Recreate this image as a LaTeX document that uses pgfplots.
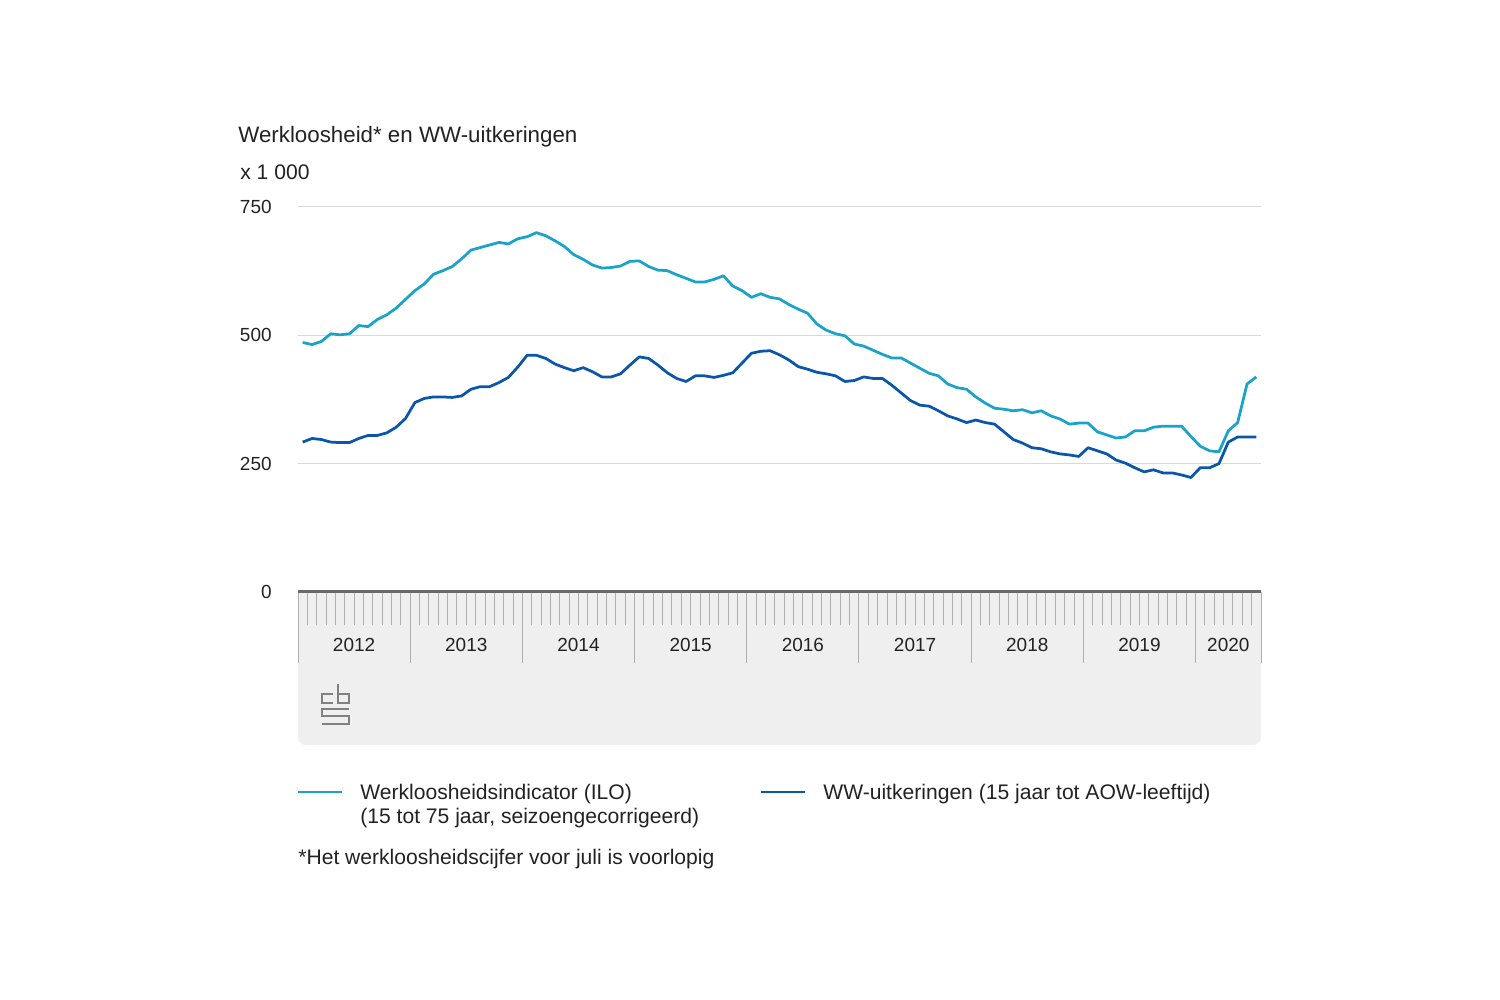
\documentclass[border=0pt]{standalone}
\usepackage{pgfplots}
\pgfplotsset{compat=1.18}
\usepackage{pgfplotstable}
\usepackage{fontspec}
\setmainfont{Liberation Sans}
\definecolor{ilo}{HTML}{1AA3C8}
\definecolor{ww}{HTML}{0A56A8}
\definecolor{band}{HTML}{EFEFEF}
\definecolor{txt}{HTML}{222222}
\definecolor{gridc}{HTML}{D9D9D9}
\definecolor{tickc}{HTML}{AFAFAF}
\definecolor{axc}{HTML}{6A6A6A}

% Werkloosheidsindicator (ILO), x 1000, monthly Jan 2012 - Jul 2020
\pgfplotstableread{
v
486
482
488
503
501
503
519
517
531
540
553
570
587
600
619
626
634
649
666
671
676
681
678
688
692
700
694
684
673
657
648
637
631
632
635
644
645
634
627
626
618
611
604
604
609
616
596
587
574
581
574
571
560
551
543
522
510
503
499
483
479
471
463
456
456
446
436
426
421
405
398
395
380
368
358
356
353
355
349
353
343
337
327
329
329
312
306
300
302
314
314
321
323
323
323
303
284
275
273
314
330
405
419
}\iloTable

% WW-uitkeringen, x 1000, monthly Jan 2012 - Jul 2020
\pgfplotstableread{
v
292
299
297
292
291
291
299
305
305
310
321
338
369
377
380
380
379
382
395
400
400
408
418
438
461
461
455
444
437
431
437
429
419
419
425
442
458
455
442
427
416
410
421
421
418
422
427
446
465
469
470
462
452
439
434
428
425
421
410
412
419
416
416
403
388
373
364
362
353
343
337
330
335
330
327
312
297
290
281
279
273
269
267
264
281
275
269
257
251
242
234
238
232
232
228
223
242
242
250
292
302
302
302
}\wwTable

\begin{document}
\begin{tikzpicture}[font=\fontsize{10.8}{13}\selectfont, text=txt]
\begin{scope}[x=0.2mm,y=0.2mm]
\path (0,0) rectangle (1500,1000);
% grey band below the axis
\fill[band, rounded corners=1.6mm] (298,255) rectangle (1261,400);
\fill[band] (298,380) rectangle (1261,408);
% titles
\node[anchor=base west, inner sep=0pt, font=\fontsize{12.7}{15}\selectfont] at (238,857) {Werkloosheid* en WW-uitkeringen};
\node[anchor=base west, inner sep=0pt, font=\fontsize{12}{14}\selectfont] at (240,820) {x 1 000};
\end{scope}

\begin{axis}[
  at={(59.6mm,81.6mm)}, anchor=south west,
  scale only axis, width=192.6mm, height=77mm,
  xmin=0, xmax=103, ymin=0, ymax=750,
  axis line style={draw=none},
  ymajorgrids, major grid style={draw=gridc, line width=0.2mm},
  ytick={0,250,500,750},
  ytick pos=left,
  y tick style={draw=none},
  yticklabel style={anchor=east, inner sep=0pt, xshift=9.0mm, text=txt},
  xtick={0,12,24,36,48,60,72,84,96,103},
  xticklabels={},
  xtick pos=bottom,
  tick align=outside,
  major tick length=14.2mm,
  minor tick length=6.6mm,
  minor xtick={1,...,102},
  x tick style={draw=tickc, line width=0.2mm},
  extra x ticks={6,18,30,42,54,66,78,90,99.5},
  extra x tick labels={2012,2013,2014,2015,2016,2017,2018,2019,2020},
  extra x tick style={major tick length=0pt, x tick style={draw=none},
     xticklabel style={anchor=center, inner sep=0pt, yshift=-10.6mm, text=txt}},
  /pgf/number format/assume math mode=true,
  clip=false,
]
\addplot[ilo, line width=0.55mm, line join=round] table[x expr=\coordindex+0.5, y=v] {\iloTable};
\addplot[ww, line width=0.55mm, line join=round] table[x expr=\coordindex+0.5, y=v] {\wwTable};
\draw[axc, line width=0.6mm] (rel axis cs:0,0) -- (rel axis cs:1,0);
\end{axis}

\begin{scope}[x=0.2mm,y=0.2mm, font=\fontsize{12}{14}\selectfont]
% cbs logo (approximate)
\begin{scope}[draw=black!50, line width=0.25mm, double=band, double distance=0.5mm]
\draw (333,306) -- (322,306) -- (322,297) -- (333,297);
\draw (338,316) -- (338,297) -- (349,297) -- (349,306) -- (338,306);
\draw (349,291) -- (322,291) -- (322,284) -- (349,284) -- (349,276) -- (322,276);
\end{scope}
% legend
\draw[ilo, line width=0.55mm] (298,208) -- (342,208);
\node[anchor=base west, inner sep=0pt] at (360,200) {Werkloosheidsindicator (ILO)};
\node[anchor=base west, inner sep=0pt] at (360,176) {(15 tot 75 jaar, seizoengecorrigeerd)};
\draw[ww, line width=0.55mm] (761,208) -- (805,208);
\node[anchor=base west, inner sep=0pt] at (823,200) {WW-uitkeringen (15 jaar tot AOW-leeftijd)};
\node[anchor=base west, inner sep=0pt] at (298,135) {*Het werkloosheidscijfer voor juli is voorlopig};
\end{scope}
\end{tikzpicture}
\end{document}
